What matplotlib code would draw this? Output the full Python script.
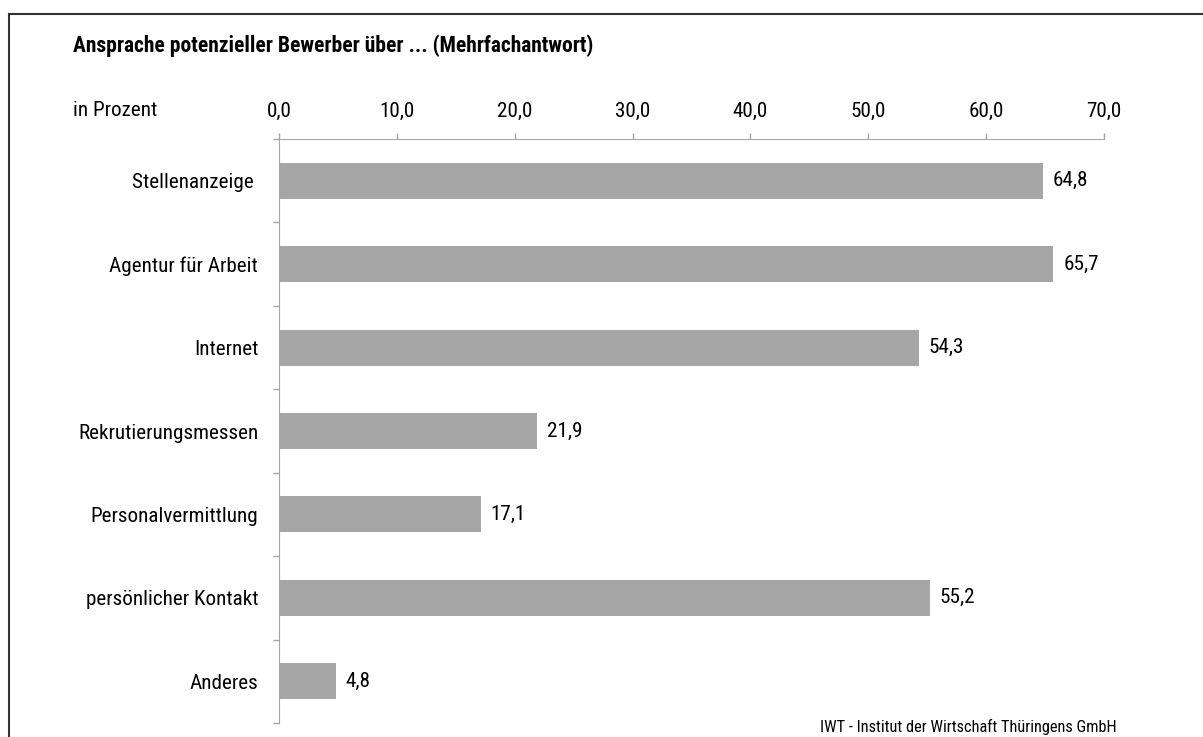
import matplotlib
matplotlib.use("Agg")
import matplotlib.pyplot as plt
from matplotlib.ticker import FuncFormatter, FixedLocator

plt.rcParams['font.family'] = ['Roboto Condensed', 'DejaVu Sans']

# data
categories = ["Stellenanzeige ", "Agentur für Arbeit", "Internet", "Rekrutierungsmessen",
              "Personalvermittlung", "persönlicher Kontakt", "Anderes"]
values = [64.8, 65.7, 54.3, 21.9, 17.1, 55.2, 4.8]
xticks = [0, 10, 20, 30, 40, 50, 60, 70]

title = "Ansprache potenzieller Bewerber über ... (Mehrfachantwort)"
unit_label = "in Prozent"
source = "IWT - Institut der Wirtschaft Thüringens GmbH"

W, H = 1203, 737
fig = plt.figure(figsize=(W / 100, H / 100), dpi=100)

# axes in pixel coordinates: x 279..1104, y 139..723
left, right, top, bottom = 279, 1104, 139, 723
ax = fig.add_axes([left / W, 1 - bottom / H, (right - left) / W, (bottom - top) / H])

bar_color = '#A6A6A6'
axis_color = '#A6A6A6'
fs = 15.2

pos = list(range(len(categories)))
ax.barh(pos, values, height=0.43, color=bar_color, zorder=2)
ax.set_ylim(len(categories) - 0.5, -0.5)
ax.set_xlim(0, 70)

for p, v in zip(pos, values):
    ax.text(v + 0.85, p, f"{v:.1f}".replace('.', ','), va='center', ha='left',
            fontsize=fs, color='black')

# top x axis
ax.xaxis.tick_top()
ax.xaxis.set_major_locator(FixedLocator(xticks))
ax.xaxis.set_major_formatter(FuncFormatter(lambda x, _: f"{x:.1f}".replace('.', ',')))
ax.tick_params(axis='x', direction='out', length=4, width=1, color=axis_color,
               labelsize=fs, pad=9)

# y axis with ticks between categories
ax.set_yticks(pos)
ax.set_yticklabels(categories)
ax.set_yticks([p - 0.5 for p in range(len(categories) + 1)], minor=True)
ax.tick_params(axis='y', which='major', length=0, labelsize=fs, pad=15)
ax.tick_params(axis='y', which='minor', direction='out', length=4, width=1, color=axis_color)

for s in ['right', 'bottom']:
    ax.spines[s].set_visible(False)
ax.spines['top'].set_color(axis_color)
ax.spines['left'].set_color(axis_color)

# texts
fig.text(73 / W, 1 - 46 / H, title, fontsize=15.5, fontweight='bold', va='center', ha='left')
fig.text(73 / W, 1 - 111 / H, unit_label, fontsize=fs, va='center', ha='left')
fig.text(1117 / W, 1 - 727 / H, source, fontsize=11.8, va='center', ha='right')

# frame lines (top and left)
fig.add_artist(plt.Line2D([9 / W, 1], [1 - 14 / H, 1 - 14 / H], color='#333333', lw=1.5,
                          transform=fig.transFigure))
fig.add_artist(plt.Line2D([9 / W, 9 / W], [0, 1 - 14 / H], color='#333333', lw=1.5,
                          transform=fig.transFigure))

fig.savefig("out.png", dpi=100, facecolor='white')
